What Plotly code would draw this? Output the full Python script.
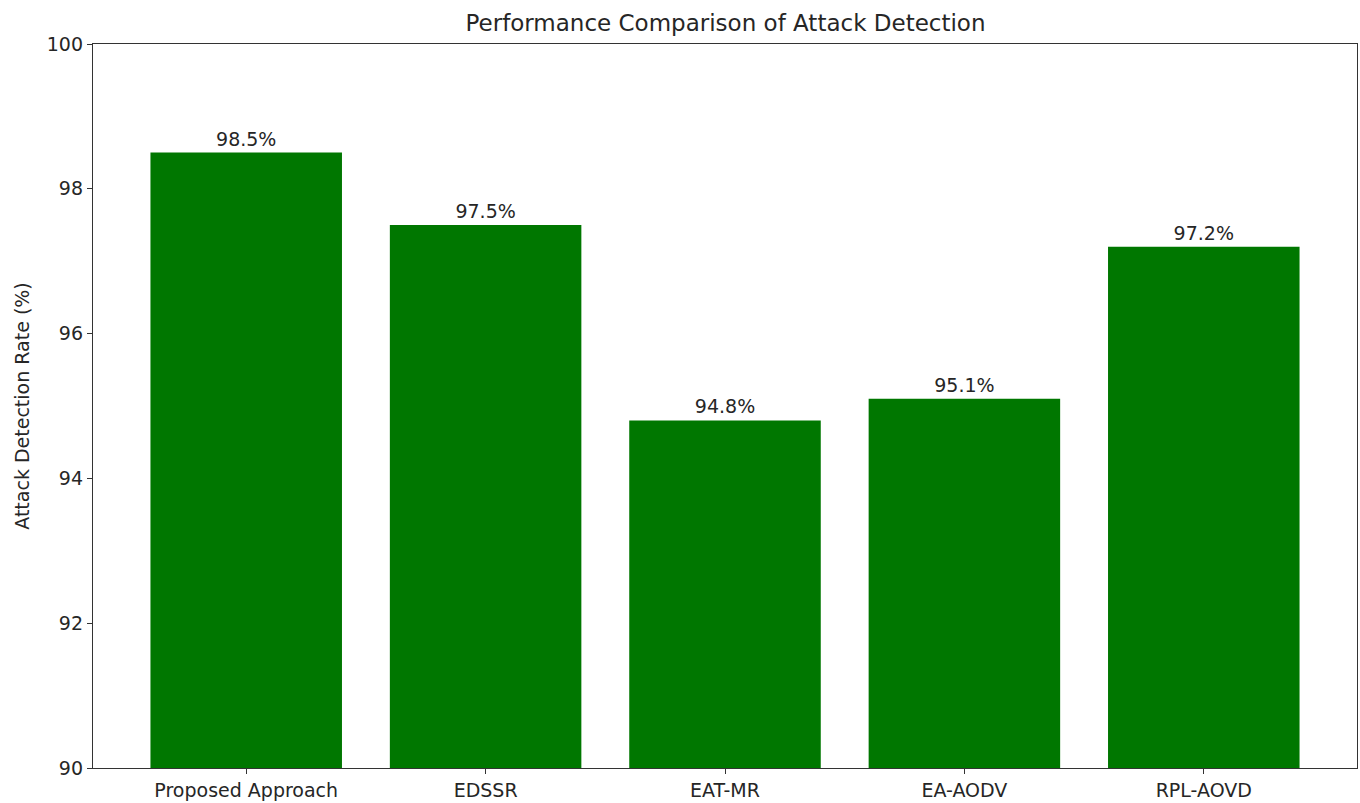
import plotly.graph_objects as go

categories = ["Proposed Approach", "EDSSR", "EAT-MR", "EA-AODV", "RPL-AOVD"]
detection_rate = [98.5, 97.5, 94.8, 95.1, 97.2]
y_ticks = [90, 92, 94, 96, 98, 100]

FONT = "DejaVu Sans"
TXT = "#262626"
FS = 19

fig = go.Figure(
    go.Bar(
        x=list(range(len(categories))),
        y=detection_rate,
        width=0.8,
        marker=dict(color="#007700", line=dict(width=0)),
        text=[f"{v}%" for v in detection_rate],
        textposition="outside",
        cliponaxis=False,
        textfont=dict(family=FONT, size=FS, color=TXT),
    )
)

fig.update_layout(
    width=1360,
    height=803,
    margin=dict(l=93, r=2, t=44, b=32),
    paper_bgcolor="white",
    plot_bgcolor="white",
    showlegend=False,
    title=dict(
        text="Performance Comparison of Attack Detection",
        x=0.5 * (93 + 1358) / 1360,
        xanchor="center",
        y=1 - 23 / 803,
        yanchor="middle",
        font=dict(family=FONT, size=23, color=TXT),
    ),
    font=dict(family=FONT, size=FS, color=TXT),
    uniformtext=dict(mode=False),
)

fig.update_xaxes(
    range=[-0.64, 4.64],
    tickmode="array",
    tickvals=list(range(len(categories))),
    ticktext=categories,
    ticks="outside",
    ticklen=5,
    tickcolor="#333",
    showline=True,
    linecolor="#333",
    linewidth=1.3,
    mirror=True,
    showgrid=False,
    zeroline=False,
    tickfont=dict(family=FONT, size=FS, color=TXT),
)
fig.update_yaxes(
    range=[90, 100],
    tickmode="array",
    tickvals=y_ticks,
    ticktext=[str(t) for t in y_ticks],
    ticks="outside",
    ticklen=5,
    tickcolor="#333",
    showline=True,
    linecolor="#333",
    linewidth=1.3,
    mirror=True,
    showgrid=False,
    zeroline=False,
    tickfont=dict(family=FONT, size=FS, color=TXT),
    title=dict(text="Attack Detection Rate (%)", font=dict(family=FONT, size=FS, color=TXT), standoff=12),
)

fig.write_html("out.html")
